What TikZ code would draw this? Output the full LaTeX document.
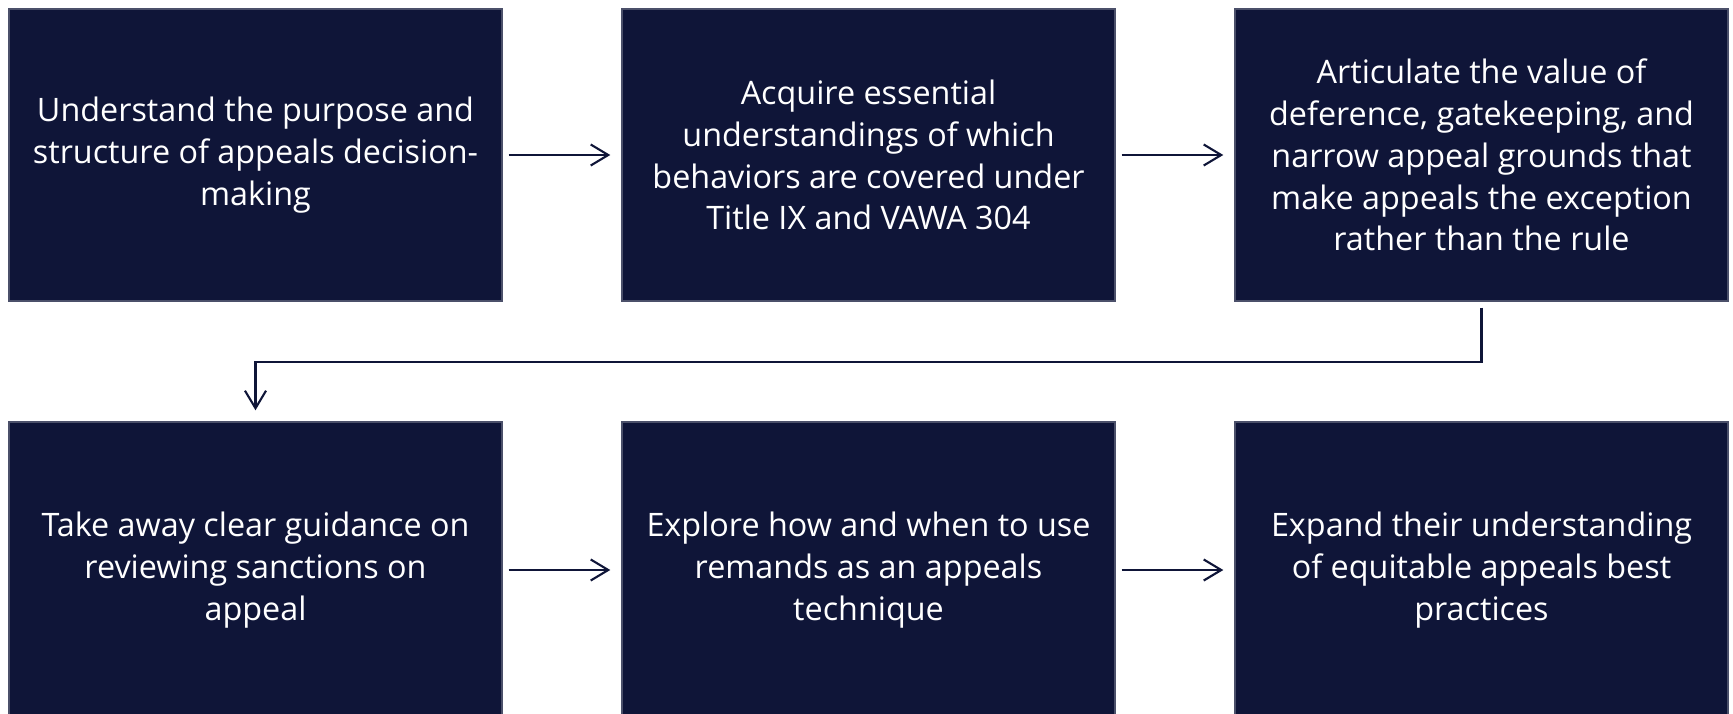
\documentclass[tikz,border=0pt]{standalone}
\usepackage{fontspec}
\setmainfont{Open Sans}
\usetikzlibrary{arrows.meta}
\definecolor{navy}{HTML}{0F1538}
\tikzstyle{goal box}=[
        draw = navy!75!white,
        line width = 0.4pt,
        fill = navy,
        text = white,
        minimum width = 4.93cm,
        minimum height = 2.92cm,
        inner sep = 0pt,
        align = center,
        font = \fontsize{9.2}{11.9}\selectfont
    ]
\tikzstyle{flow}=[
    draw = navy,
    line width = 0.6pt,
    -{Straight Barb[length=5pt,width=6pt]},
    shorten <= 0.06cm,
    shorten >= 0.11cm
]

\begin{document}
\begin{tikzpicture}[node distance={6.13cm}]
        \useasboundingbox (0,0) rectangle (17.33,-7.13);
        \node[goal box] (1) at (2.555,-1.55) {Understand the purpose and\\structure of appeals decision-\\making};
        \node[goal box] (2) [right of = 1] {Acquire essential\\understandings of which\\behaviors are covered under\\Title IX and VAWA 304};
        \node[goal box] (3) [right of = 2] {Articulate the value of\\deference, gatekeeping, and\\narrow appeal grounds that\\make appeals the exception\\rather than the rule};
        % bottom row runs off the lower edge
        \node[goal box, minimum height = 2.96cm] (4) [below of = 1, node distance = 4.15cm] {Take away clear guidance on\\reviewing sanctions on\\appeal};
        \node[goal box, minimum height = 2.96cm] (5) [right of = 4] {Explore how and when to use\\remands as an appeals\\technique};
        \node[goal box, minimum height = 2.96cm] (6) [right of = 5] {Expand their understanding\\of equitable appeals best\\practices};

        \draw[flow] (1) -- (2);
        \draw[flow] (2) -- (3);
        \draw[flow] (3.south) -- ++(0,-0.6) -| (4.north);
        \draw[flow] (4) -- (5);
        \draw[flow] (5) -- (6);

    \end{tikzpicture}
\end{document}
